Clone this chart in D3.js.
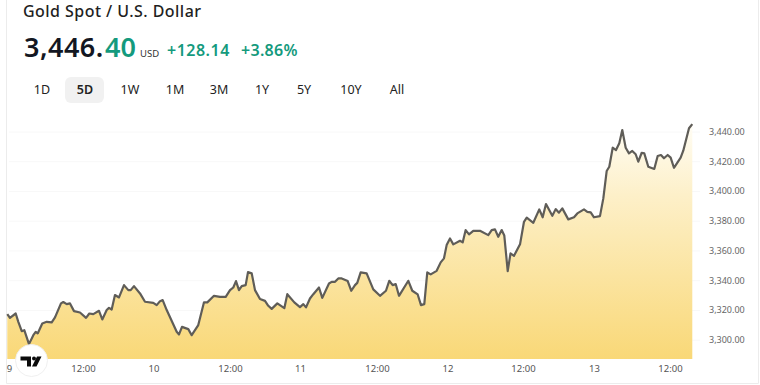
<!DOCTYPE html>
<html><head><meta charset="utf-8">
<script src="https://cdn.jsdelivr.net/npm/d3@7/dist/d3.min.js"></script>
<style>html,body{margin:0;padding:0;background:#fff}svg{display:block}text{font-family:"Noto Sans","Open Sans",sans-serif}</style>
</head><body><svg id="c" width="760" height="385"></svg>
<script>
const title = "Gold Spot / U.S. Dollar";
const priceMain = "3,446.", priceDecimals = "40", currency = "USD", changeAbs = "+128.14", changePct = "+3.86%";
const ranges = ["1D","5D","1W","1M","3M","1Y","5Y","10Y","All"];
const activeRange = "5D";
const yTicks = [3300,3320,3340,3360,3380,3400,3420,3440];
const xTickLabels = ["9","12:00","10","12:00","11","12:00","12","12:00","13","12:00"];
const xTickHours = [0,12.14,23.71,36.26,47.75,60.39,71.96,84.34,96,108.47];
const hours = [-0.28,0.16,1.1,1.53,2.09,2.51,3.28,3.99,4.38,4.71,5.46,6.19,7.01,7.55,8.53,8.91,9.47,10.01,10.67,11.65,12.64,13.18,13.83,14.77,15.31,16.03,16.41,16.85,17.39,18.05,18.87,19.58,19.97,20.51,21.5,22.32,23.68,24.24,24.78,25.22,25.88,27.52,27.9,28.39,29.42,29.98,31.06,32,32.54,33.64,34.62,35.56,36.27,36.81,37.25,37.74,38.19,38.84,39.22,39.83,40.37,41.19,42.01,42.55,43.11,44.03,45.18,45.67,46.82,47.75,48.3,48.74,49.39,49.94,50.87,51.41,52.51,52.95,53.5,54.04,54.6,55.58,56.17,56.78,57.15,57.71,58.69,59.78,60.88,61.86,62.4,62.96,63.46,64,65.53,66.18,67.07,67.61,68.15,68.64,69.2,70.18,70.84,71.38,71.82,72.37,72.91,74.01,74.45,74.94,75.49,76.19,77.29,78.65,79.21,79.75,80.29,80.85,81.28,81.84,82.3,82.87,83.86,84.51,84.96,86.04,87.02,87.58,88.12,89.16,89.71,90.25,90.8,91.78,92.72,93.26,94.36,94.9,95.46,96,96.98,97.53,98.08,98.51,99.07,99.61,100.15,100.64,101.2,101.74,102.28,102.84,103.27,103.83,104.25,104.91,105.89,106.45,106.99,107.48,108.09,108.58,109.12,110.22,110.65,111.59,112.13];
const prices = [3317.2,3314.7,3317.6,3312,3305.7,3306.4,3297,3303,3305.3,3304.2,3310.9,3312,3311.6,3315,3324.4,3325.3,3323.9,3324.4,3319.2,3318.3,3314.7,3317.6,3317.2,3319.4,3313.6,3319.9,3321.4,3320.3,3330,3328.4,3336.7,3333.3,3333.3,3336,3331.1,3325.5,3324.8,3323.2,3325.9,3326.6,3319.9,3305.3,3303.5,3308.6,3307.1,3303,3309.8,3325.1,3325.1,3329.5,3328.8,3328.8,3333.3,3335.1,3339.4,3333.3,3336,3336.7,3345.4,3344.6,3333.3,3327.3,3326.1,3322.8,3320.7,3324.4,3321.2,3330.6,3325.1,3321.9,3323.9,3321.7,3327.7,3330.6,3335.1,3328.1,3337.8,3338.9,3338.9,3341.2,3341.2,3339.4,3332.9,3336.7,3338.2,3345.2,3344.6,3333.8,3329.5,3332.9,3339.6,3336.7,3337.4,3329.5,3339.6,3332.9,3330.4,3323.2,3323.9,3345.2,3343.9,3346.3,3352,3354.7,3363.6,3368.1,3364.1,3366.5,3365.4,3373.7,3370.8,3373.2,3373.2,3370.3,3373.7,3374.2,3369.2,3373.7,3370,3346.1,3358,3356.4,3364.1,3379.3,3382,3378.6,3387.6,3382.3,3391.2,3383.3,3387.8,3385.4,3388.3,3380.9,3382.3,3384.9,3387.6,3386,3385.6,3382.3,3383.1,3395,3413.4,3416.3,3429.1,3427.5,3432.1,3441,3429.1,3425.3,3426.9,3424.7,3419.7,3425.7,3425.3,3416.3,3414.8,3423.5,3424.2,3422,3424.2,3422.4,3415.6,3422.4,3427.1,3442.2,3445];
const rangeCenters = [42,85,130,175,219,262,304,351,397];

const svg = d3.select("#c");
const x = d3.scaleLinear().domain([0,96]).range([9,594]);
const y = d3.scaleLinear().domain([3287,3440]).range([359,131.5]);
const pts = hours.map((h,i)=>[h,prices[i]]);

// panel border
svg.append("path").attr("d","M6.5,0V383.5H758.5V0").attr("fill","none").attr("stroke","#ececec");

// gridlines
svg.append("g").selectAll("line").data(yTicks).join("line")
  .attr("x1",9).attr("x2",700).attr("y1",d=>y(d)+.5).attr("y2",d=>y(d)+.5)
  .attr("stroke","#f8f8f8");

const defs = svg.append("defs");
const g = defs.append("linearGradient").attr("id","fill").attr("gradientUnits","userSpaceOnUse")
  .attr("x1",0).attr("x2",0).attr("y1",y(3445)).attr("y2",359);
g.append("stop").attr("offset",0).attr("stop-color","#fffdf5");
g.append("stop").attr("offset",.3).attr("stop-color","#fdf0c9");
g.append("stop").attr("offset",1).attr("stop-color","#f9d877");

svg.append("path").datum(pts).attr("fill","url(#fill)")
  .attr("d",d3.area().x(d=>x(d[0])).y0(359).y1(d=>y(d[1])));
svg.append("path").datum(pts).attr("fill","none").attr("stroke","#5f5d58").attr("stroke-width",2.2)
  .attr("stroke-linejoin","round")
  .attr("d",d3.line().x(d=>x(d[0])).y(d=>y(d[1])));

// axes
const yAxis = d3.axisRight(y).tickValues(yTicks).tickFormat(d3.format(",.2f")).tickSize(0).tickPadding(0);
const ya = svg.append("g").attr("transform","translate(709,0)").call(yAxis);
ya.select(".domain").remove();
ya.selectAll("text").attr("fill","#666").attr("font-size",9).attr("font-family",'"Noto Sans",sans-serif');

const xAxis = d3.axisBottom(x).tickValues(xTickHours).tickFormat((d,i)=>xTickLabels[i]).tickSize(0).tickPadding(0);
const xa = svg.append("g").attr("transform","translate(0,365)").call(xAxis);
xa.select(".domain").remove();
xa.selectAll("text").attr("fill","#555").attr("font-size",9.5).attr("font-family",'"Noto Sans",sans-serif');

// header
const txt = (s,px,py,size,weight,fill,ls)=>svg.append("text").text(s).attr("x",px).attr("y",py)
  .attr("font-size",size).attr("font-weight",weight).attr("fill",fill).attr("letter-spacing",ls||0);
txt(title,23,17,16,500,"#1f1f1f",0.45);
txt(priceMain,24,57,27,600,"#131722",0.5);
txt(priceDecimals,105,57,27,600,"#149a7d");
txt(currency,140,57,9.5,400,"#333");
txt(changeAbs,167,56,16,600,"#149a7d",0.5);
txt(changePct,241,56,16,600,"#149a7d",0.3);

svg.append("rect").attr("x",65).attr("y",77).attr("width",39).attr("height",26).attr("rx",6).attr("fill","#f1f1f1");
svg.append("g").selectAll("text").data(ranges).join("text")
  .attr("x",(d,i)=>rangeCenters[i]).attr("y",94).attr("text-anchor","middle").attr("font-size",12.5)
  .attr("font-weight",d=>d===activeRange?600:400).attr("fill","#222").text(d=>d);

// logo
const logo = svg.append("g").attr("transform","translate(31.5,360.5)");
logo.append("circle").attr("r",16).attr("fill","#fff").attr("stroke","#f0f0f0");
logo.append("path").attr("fill","#0b0b0b").attr("d","M-11,-4H-0.5V6H-4.5V0H-11Z");
logo.append("circle").attr("cx",2.5).attr("cy",-2).attr("r",2).attr("fill","#0b0b0b");
logo.append("path").attr("fill","#0b0b0b").attr("d","M5.5,-4H10L5,6H0.5Z");
</script></body></html>
